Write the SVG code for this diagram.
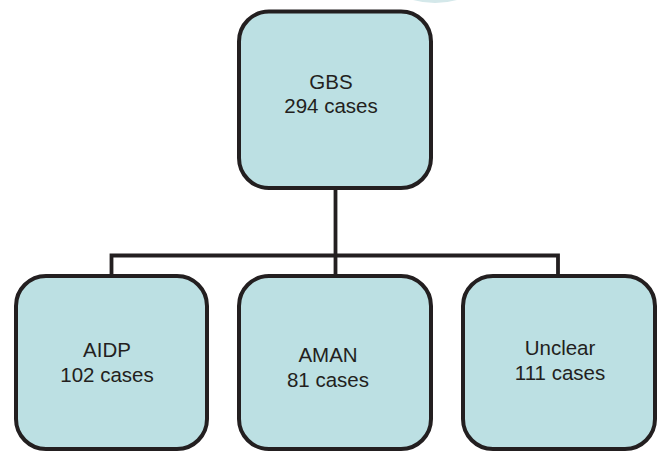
<svg xmlns="http://www.w3.org/2000/svg" width="660" height="452" viewBox="0 0 660 452">
<style>
.box{fill:#bce0e3;stroke:#231f20;stroke-width:4}
.lbl{font-family:"Liberation Sans",Arial,sans-serif;font-size:20.5px;fill:#231f20;text-anchor:middle}
.con{fill:none;stroke:#231f20;stroke-width:3.8}
</style>
<rect width="660" height="452" fill="#ffffff"/>
<path d="M413,0 A82,82 0 0 0 457,0 Z" fill="#d4e8ea"/>
<g id="connectors">
<path class="con" d="M335.5,188 V276"/>
<path class="con" d="M111.5,276 V255.5 H558 V276"/>
</g>
<g id="gbs">
<rect class="box" x="239" y="11.5" width="192" height="176.5" rx="30" ry="30"/>
<text class="lbl" x="331" y="88.5">GBS</text>
<text class="lbl" x="331" y="113">294 cases</text>
</g>
<g id="aidp">
<rect class="box" x="16" y="276" width="191" height="173" rx="30" ry="30"/>
<text class="lbl" x="107" y="357">AIDP</text>
<text class="lbl" x="107" y="382">102 cases</text>
</g>
<g id="aman">
<rect class="box" x="239" y="276" width="192" height="173" rx="30" ry="30"/>
<text class="lbl" x="328" y="362">AMAN</text>
<text class="lbl" x="328" y="387">81 cases</text>
</g>
<g id="unclear">
<rect class="box" x="463" y="276" width="192" height="173" rx="30" ry="30"/>
<text class="lbl" x="560" y="355">Unclear</text>
<text class="lbl" x="560" y="380">111 cases</text>
</g>
</svg>
